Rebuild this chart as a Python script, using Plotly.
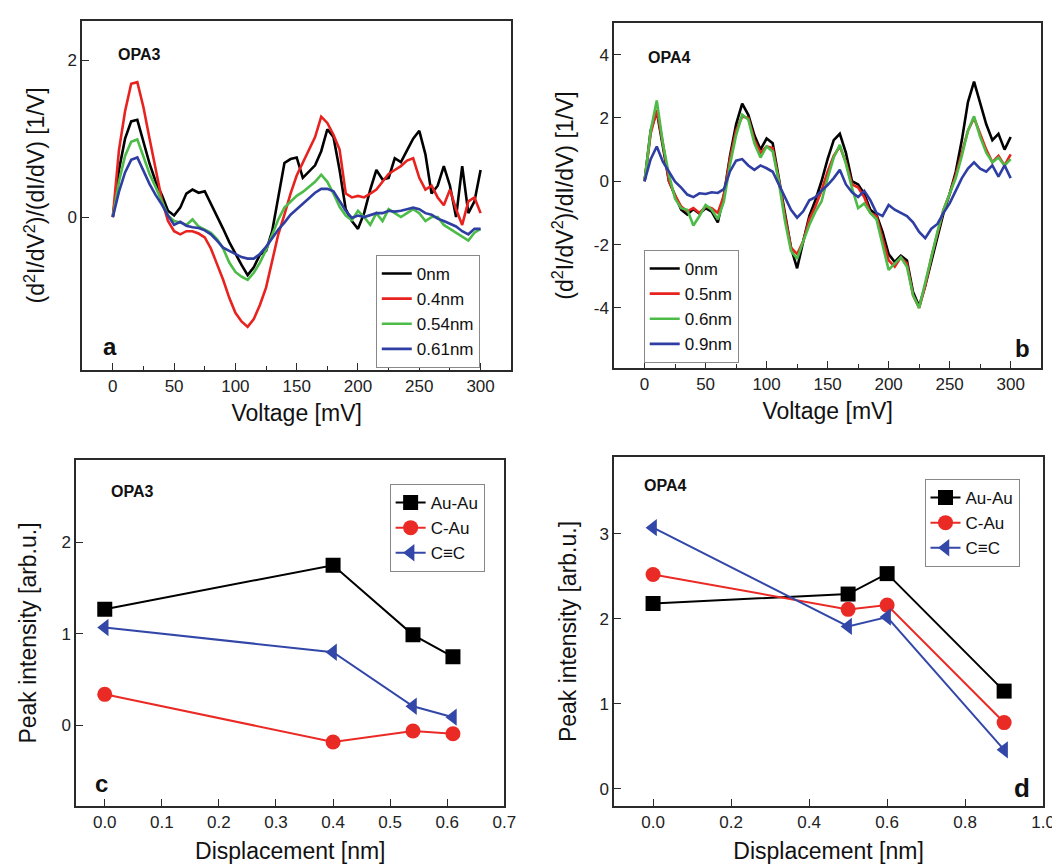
import plotly.graph_objects as go

# ---------------- data ----------------
voltage = list(range(0, 301, 5))

# panel a (OPA3) spectra
a_names = ["0nm", "0.4nm", "0.54nm", "0.61nm"]
a_0nm = [0, 0.6, 1.0, 1.22, 1.24, 0.95, 0.68, 0.45, 0.28, 0.08, 0.02, 0.12, 0.3, 0.35, 0.31, 0.33,
         0.17, 0.03, -0.15, -0.32, -0.47, -0.61, -0.74, -0.64, -0.48, -0.43, -0.18, 0.28, 0.69, 0.74,
         0.76, 0.5, 0.58, 0.66, 0.84, 1.12, 1.02, 0.6, 0.1, -0.05, -0.15, 0.05, 0.35, 0.6, 0.48,
         0.5, 0.75, 0.7, 0.85, 1.0, 1.1, 0.8, 0.3, 0.4, 0.65, 0.4, 0.0, 0.65, 0.05, 0.2, 0.6]
a_04nm = [0, 0.85, 1.35, 1.7, 1.72, 1.4, 1.0, 0.62, 0.22, -0.05, -0.18, -0.22, -0.18, -0.18, -0.21,
          -0.26, -0.4, -0.6, -0.8, -1.03, -1.22, -1.33, -1.4, -1.3, -1.12, -0.9, -0.56, -0.22, 0.03,
          0.3, 0.53, 0.69, 0.86, 1.02, 1.28, 1.2, 1.05, 0.86, 0.3, 0.25, 0.27, 0.25, 0.3, 0.35, 0.45,
          0.55, 0.6, 0.65, 0.72, 0.75, 0.5, 0.35, 0.4, 0.25, 0.15, 0.35, 0.1, -0.1, 0.2, 0.25, 0.05]
a_054nm = [0, 0.45, 0.78, 0.96, 0.99, 0.76, 0.55, 0.38, 0.2, 0.02, -0.05, -0.07, -0.1, -0.03, -0.12,
           -0.16, -0.2, -0.28, -0.4, -0.58, -0.7, -0.76, -0.8, -0.71, -0.58, -0.42, -0.22, -0.03, 0.12,
           0.2, 0.27, 0.32, 0.39, 0.45, 0.54, 0.45, 0.3, 0.13, 0.02, -0.04, 0.08, 0.0, -0.1, 0.05,
           -0.05, 0.1, 0.05, 0.0, 0.05, 0.1, 0.05, -0.05, 0.0, 0.0, -0.1, -0.15, -0.2, -0.25, -0.3,
           -0.2, -0.15]
a_061nm = [0, 0.32, 0.57, 0.73, 0.76, 0.58, 0.42, 0.28, 0.16, 0.02, -0.1, -0.06, -0.11, -0.13, -0.14,
           -0.17, -0.22, -0.3, -0.39, -0.43, -0.47, -0.51, -0.53, -0.53, -0.47, -0.38, -0.27, -0.16,
           -0.07, 0.03, 0.1, 0.17, 0.25, 0.31, 0.36, 0.36, 0.33, 0.2, 0.08, -0.01, 0.02, 0.0, 0.03,
           0.05, 0.05, 0.08, 0.07, 0.08, 0.1, 0.12, 0.1, 0.05, 0.03, -0.02, -0.05, -0.08, -0.12, -0.18,
           -0.22, -0.15, -0.15]

# panel b (OPA4) spectra
b_names = ["0nm", "0.5nm", "0.6nm", "0.9nm"]
b_0nm = [0, 1.6, 2.2, 1.1, 0.0, -0.45, -0.9, -1.05, -0.88, -1.02, -0.85, -0.96, -1.3, -0.43, 0.8, 1.8,
         2.45, 2.1, 1.45, 1.0, 1.35, 1.2, 0.15, -1.0, -2.1, -2.75, -1.9, -1.1, -0.6, 0.0, 0.7, 1.3,
         1.5, 0.9, 0.0, -0.1, -0.4, -0.9, -1.05, -1.6, -2.3, -2.55, -2.35, -2.5, -3.5, -3.95, -3.3,
         -2.5, -1.8, -1.0, -0.4, 0.3, 1.3, 2.5, 3.15, 2.5, 1.8, 1.3, 1.5, 1.0, 1.4]
b_05nm = [0, 1.5, 2.25, 1.2, 0.0, -0.45, -0.8, -0.95, -0.85, -1.0, -0.8, -0.85, -1.0, -0.45, 0.7, 1.6,
          2.05, 2.0, 1.3, 0.9, 1.1, 1.05, 0.05, -1.1, -2.1, -2.3, -1.9, -1.2, -0.8, -0.3, 0.3, 0.8,
          1.1, 0.6, -0.1, -0.2, -0.5, -1.0, -1.1, -1.8, -2.5, -2.7, -2.4, -2.6, -3.6, -4.0, -3.3,
          -2.4, -1.6, -0.9, -0.4, 0.2, 0.9, 1.6, 2.0, 1.5, 1.0, 0.6, 0.8, 0.5, 0.85]
b_06nm = [0, 1.6, 2.55, 1.2, 0.2, -0.55, -0.85, -0.9, -1.4, -1.1, -0.75, -0.9, -1.2, -0.64, 0.52,
          1.45, 2.1, 1.95, 1.2, 0.75, 1.1, 0.94, -0.01, -1.25, -2.2, -2.45, -1.9, -1.38, -0.96,
          -0.64, 0.1, 0.75, 1.15, 0.55, -0.22, -0.85, -0.7, -1.0, -1.2, -2.0, -2.8, -2.6, -2.4,
          -2.7, -3.6, -4.0, -3.2, -2.3, -1.6, -0.9, -0.4, 0.1, 0.8, 1.6, 2.05, 1.4, 0.9, 0.6, 0.75,
          0.5, 0.7]
b_09nm = [0, 0.7, 1.1, 0.62, 0.3, -0.01, -0.2, -0.42, -0.5, -0.38, -0.4, -0.35, -0.37, -0.25, 0.31,
          0.65, 0.7, 0.5, 0.36, 0.5, 0.41, 0.3, -0.1, -0.5, -0.9, -1.15, -0.95, -0.6, -0.5, -0.3,
          -0.12, 0.1, 0.36, -0.1, -0.35, -0.5, -0.3, -0.6, -1.0, -1.1, -0.75, -0.9, -1.0, -1.1, -1.3,
          -1.6, -1.8, -1.5, -1.35, -1.0, -0.7, -0.3, 0.1, 0.4, 0.6, 0.4, 0.3, 0.5, 0.15, 0.5, 0.1]
b_ytickvals = [-4, -2, 0, 2, 4]
b_yticktext = ["-4", "-2", "0", "2", "4"]

# panel c (OPA3) peak intensities
c_disp = [0.0, 0.4, 0.54, 0.61]
c_auau = [1.27, 1.75, 0.99, 0.75]
c_cau = [0.34, -0.18, -0.06, -0.09]
c_cc = [1.07, 0.80, 0.21, 0.09]

# panel d (OPA4) peak intensities
d_disp = [0.0, 0.5, 0.6, 0.9]
d_auau = [2.18, 2.29, 2.53, 1.15]
d_cau = [2.52, 2.11, 2.16, 0.78]
d_cc = [3.07, 1.91, 2.02, 0.46]

peak_names = ["Au-Au", "C-Au", "C\u2261C"]

# ---------------- style ----------------
FONT = "Liberation Sans, Arial, sans-serif"
spec_colors = ["#000000", "#e8231f", "#4cbb47", "#2f3ea3"]
pk_colors = ["#000000", "#ea2a25", "#3347a8"]
pk_symbols = ["square", "circle", "triangle-left"]

fig = go.Figure()

for name, ys, col in zip(a_names, [a_0nm, a_04nm, a_054nm, a_061nm], spec_colors):
    fig.add_trace(go.Scatter(x=voltage, y=ys, mode="lines", name=name,
                             line=dict(color=col, width=2.6), xaxis="x", yaxis="y",
                             legend="legend"))
for name, ys, col in zip(b_names, [b_0nm, b_05nm, b_06nm, b_09nm], spec_colors):
    fig.add_trace(go.Scatter(x=voltage, y=ys, mode="lines", name=name,
                             line=dict(color=col, width=2.6), xaxis="x2", yaxis="y2",
                             legend="legend2"))
for name, ys, col, sym in zip(peak_names, [c_auau, c_cau, c_cc], pk_colors, pk_symbols):
    fig.add_trace(go.Scatter(x=c_disp, y=ys, mode="lines+markers", name=name,
                             line=dict(color=col, width=2), marker=dict(symbol=sym, size=15, color=col),
                             xaxis="x3", yaxis="y3", legend="legend3"))
for name, ys, col, sym in zip(peak_names, [d_auau, d_cau, d_cc], pk_colors, pk_symbols):
    fig.add_trace(go.Scatter(x=d_disp, y=ys, mode="lines+markers", name=name,
                             line=dict(color=col, width=2), marker=dict(symbol=sym, size=15, color=col),
                             xaxis="x4", yaxis="y4", legend="legend4"))

W, H = 1060, 864
def px(x):
    return x / W
def py(y):
    return 1 - y / H

axis_common = dict(showline=True, linecolor="#2a2a2a", linewidth=1.6, mirror=True,
                   ticks="inside", ticklen=7, tickwidth=1.3, tickcolor="#2a2a2a",
                   showgrid=False, zeroline=False,
                   tickfont=dict(family=FONT, size=17, color="#222"),
                   title_font=dict(family=FONT, size=23, color="#111"))

minor_v = dict(ticks="inside", ticklen=4, tickwidth=1.1, tickcolor="#2a2a2a", dtick=25, showgrid=False)

fig.update_layout(
    width=W, height=H, paper_bgcolor="white", plot_bgcolor="white",
    margin=dict(l=0, r=0, t=0, b=0),
    font=dict(family=FONT, color="#111", size=16),
    xaxis=dict(axis_common, domain=[px(75), px(509)], range=[-25, 325], dtick=50, tick0=0,
               minor=minor_v, anchor="y",
               title=dict(text="Voltage [mV]", standoff=10)),
    yaxis=dict(axis_common, domain=[py(362), py(13)], range=[-1.95, 2.5], dtick=2, tick0=0,
               anchor="x",
               title=dict(text="(d<sup>2</sup>I/dV<sup>2</sup>)/(dI/dV) [1/V]", standoff=16)),
    xaxis2=dict(axis_common, domain=[px(613), px(1045)], range=[-25, 325], dtick=50, tick0=0,
                minor=minor_v, anchor="y2",
                title=dict(text="Voltage [mV]", standoff=10)),
    yaxis2=dict(axis_common, domain=[py(360), py(15)], range=[-5.9, 5.0],
                tickmode="array", tickvals=b_ytickvals, ticktext=b_yticktext,
                anchor="x2",
                title=dict(text="(d<sup>2</sup>I/dV<sup>2</sup>)/dI/dV) [1/V]", standoff=14)),
    xaxis3=dict(axis_common, domain=[px(69), px(502)], range=[-0.05, 0.7], dtick=0.1, tick0=0,
                tickformat=".1f", anchor="y3",
                title=dict(text="Displacement [nm]", standoff=12)),
    yaxis3=dict(axis_common, domain=[py(798), py(452)], range=[-0.88, 2.9], dtick=1, tick0=0,
                anchor="x3",
                title=dict(text="Peak intensity [arb.u.]", standoff=18)),
    xaxis4=dict(axis_common, domain=[px(613), px(1047)], range=[-0.1, 1.0], dtick=0.2, tick0=0,
                tickformat=".1f", anchor="y4",
                title=dict(text="Displacement [nm]", standoff=12)),
    yaxis4=dict(axis_common, domain=[py(798), py(449)], range=[-0.2, 3.9], dtick=1, tick0=0,
                anchor="x4",
                title=dict(text="Peak intensity [arb.u.]", standoff=16)),
)

leg_common = dict(bgcolor="white", bordercolor="#888", borderwidth=1,
                  font=dict(family=FONT, size=17, color="#111"), tracegroupgap=0,
                  itemwidth=30, xanchor="left", yanchor="top")
fig.update_layout(
    legend=dict(leg_common, x=px(372), y=py(247)),
    legend2=dict(leg_common, x=px(643), y=py(242)),
    legend3=dict(leg_common, x=px(386), y=py(476)),
    legend4=dict(leg_common, x=px(927), y=py(471)),
)

labels = [
    ("OPA3", 109, 47, 16),
    ("OPA4", 645, 50, 16),
    ("OPA3", 102, 483, 16),
    ("OPA4", 641, 477, 16),
    ("a", 94, 338, 24),
    ("b", 1017, 340, 24),
    ("c", 86, 775, 24),
    ("d", 1016, 780, 26),
]
for txt, x, y, size in labels:
    fig.add_annotation(x=px(x), y=py(y), xref="paper", yref="paper", text=txt,
                       showarrow=False, xanchor="left", yanchor="middle",
                       font=dict(family=FONT, size=size, color="#111", weight="bold"))

fig.write_html("out.html")
